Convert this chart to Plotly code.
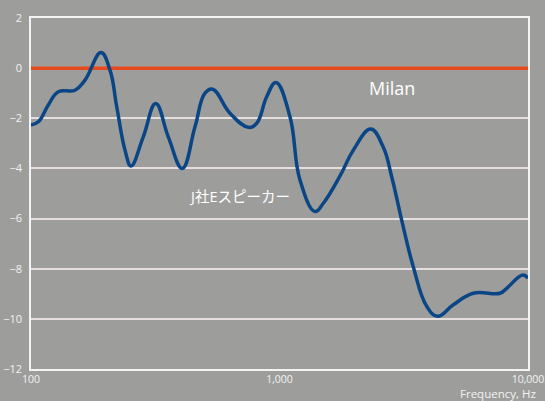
import plotly.graph_objects as go

# Data
freq_hz = [100, 107, 117.4, 128.8, 150.4, 164.9, 191.2, 207.9, 221.3, 238.9, 252.6,
           283, 317.6, 356.8, 406.2, 457, 501.4, 538.5, 632, 748.8, 809.4, 888, 968,
           1102, 1209, 1390, 1501, 1752, 1982, 2328, 2609, 2828, 3102, 3454, 3912,
           4331, 5005, 6025, 7715, 8210, 9521, 10000]
j_speaker_db = [-2.27, -2.14, -1.47, -0.94, -0.88, -0.48, 0.62, -0.08, -1.54, -3.27, -3.9,
                -2.74, -1.41, -2.74, -4.0, -2.34, -1.0, -0.84, -1.8, -2.36, -2.2, -1.14, -0.57,
                -1.94, -4.46, -5.72, -5.39, -4.3, -3.27, -2.43, -3.13, -4.33, -6.06, -7.92, -9.5,
                -9.9, -9.44, -8.98, -8.98, -8.78, -8.25, -8.38]
milan_freq = [100, 10000]
milan_db = [0, 0]

x_tickvals = [100, 1000, 10000]
x_ticktext = ["100", "1,000", "10,000"]
y_tickvals = [2, 0, -2, -4, -6, -8, -10, -12]

BG = "#9d9e9c"
FONT = "Open Sans, Noto Sans CJK JP, sans-serif"

fig = go.Figure()
fig.add_trace(go.Scatter(x=milan_freq, y=milan_db, mode="lines",
                         line=dict(color="#e64a1e", width=3.5), name="Milan",
                         hoverinfo="skip"))
fig.add_trace(go.Scatter(x=freq_hz, y=j_speaker_db, mode="lines",
                         line=dict(color="#0a4585", width=3.5, shape="spline", smoothing=1.2),
                         name="J社Eスピーカー"))

fig.update_layout(
    width=545, height=401,
    margin=dict(l=31, r=17, t=18, b=32),
    paper_bgcolor=BG, plot_bgcolor=BG,
    showlegend=False,
    font=dict(family=FONT, color="#f2f2f2", size=11),
    xaxis=dict(type="log", range=[2, 4], tickvals=x_tickvals, ticktext=x_ticktext,
               showgrid=False, showline=True, mirror=True, linecolor="#f4f4f4", linewidth=1.5,
               ticks="", tickfont=dict(size=10.5, color="#f2f2f2"), zeroline=False,
               automargin=False, ticklabeloverflow="allow"),
    yaxis=dict(range=[-12, 2], tickvals=y_tickvals, showgrid=True, gridcolor="#e6dede",
               gridwidth=1.5, showline=True, mirror=True, linecolor="#f4f4f4", linewidth=1.5,
               ticks="", ticklabelstandoff=5, tickfont=dict(size=11, color="#f2f2f2"),
               zeroline=False, automargin=False),
    annotations=[
        dict(text="Milan", x=3.4527, y=-0.8, xref="x", yref="y", showarrow=False,
             font=dict(size=18, color="#ffffff", family=FONT)),
        dict(text="J社Eスピーカー", x=2.841, y=-5.1, xref="x", yref="y", showarrow=False,
             font=dict(size=14.5, color="#ffffff", family=FONT)),
        dict(text="Frequency, Hz", x=1.02, y=-0.071, xref="paper", yref="paper",
             xanchor="right", yanchor="middle", showarrow=False,
             font=dict(size=11.5, color="#f2f2f2", family=FONT)),
    ],
)

fig.write_html("out.html", config={"displayModeBar": False},
               post_script="document.body.style.margin='0px';"
               "document.body.style.background='" + BG + "';")
